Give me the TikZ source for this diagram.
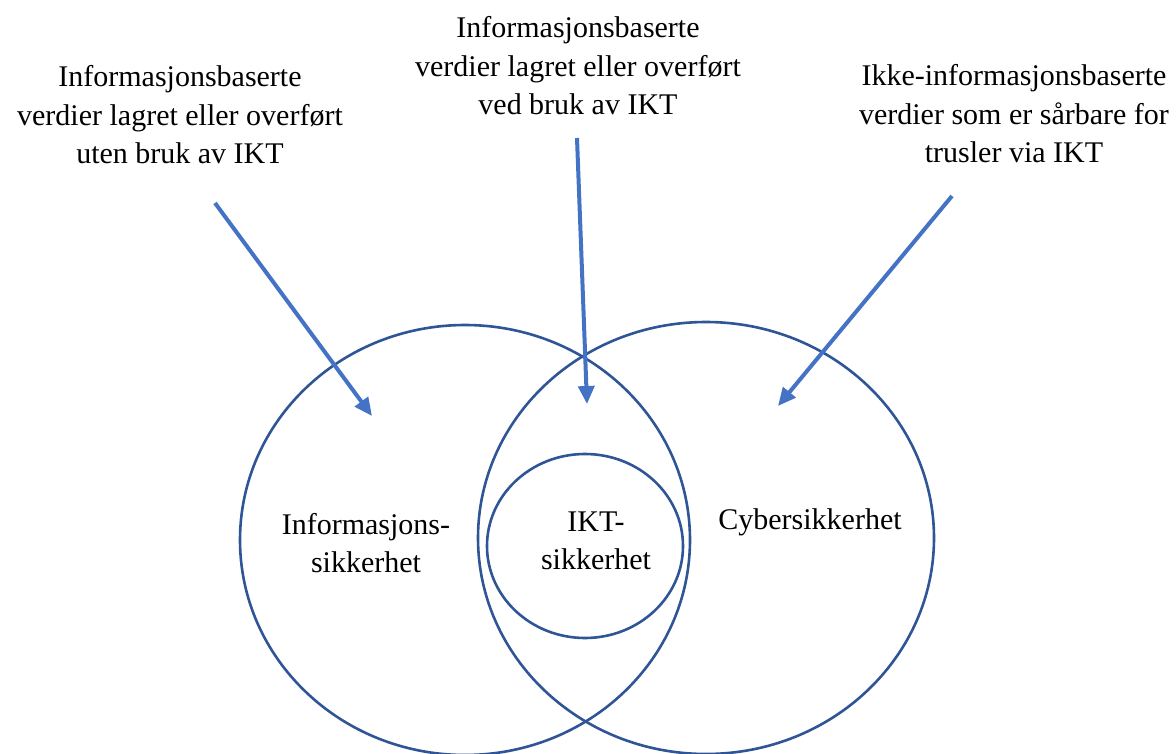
\documentclass[tikz,border=0pt]{standalone}
\usepackage{fontspec}
\setmainfont{Liberation Serif}
\usetikzlibrary{arrows.meta}
\definecolor{ringblue}{HTML}{2F5597}
\definecolor{pilblue}{HTML}{4472C4}

\begin{document}
\begin{tikzpicture}[x = 1pt, y = -1pt,
	ring/.style = {draw = ringblue, line width = 2.6pt},
	pil/.style = {draw = pilblue, line width = 4pt, -{Triangle[length = 18pt, width = 16pt]}},
	merk/.style = {align = center, inner sep = 0pt, font = \rmfamily\fontsize{30}{38.5}\selectfont}]
	\useasboundingbox (0, 0) rectangle (1176, 754);
	\draw[ring] (465, 540) ellipse (225 and 215);
	\draw[ring] (706, 538) ellipse (228 and 216);
	\draw[ring] (585, 546) ellipse (98 and 92);
	\node[merk] (txtA) at (180, 115) {Informasjonsbaserte\\verdier lagret eller overført\\uten bruk av IKT};
	\node[merk] (txtB) at (578, 66) {Informasjonsbaserte\\verdier lagret eller overført\\ved bruk av IKT};
	\node[merk] (txtC) at (1014, 114) {Ikke-informasjonsbaserte\\verdier som er sårbare for\\trusler via IKT};
	\node[merk] (lblInfo) at (366, 543) {Informasjons-\\sikkerhet};
	\node[merk] (lblIKT) at (596, 541) {IKT-\\sikkerhet};
	\node[merk] (lblCyber) at (810, 522) {Cybersikkerhet};
	\coordinate (aStart) at (215, 203);
	\coordinate (aEnd) at (372, 416);
	\coordinate (bStart) at (577, 138);
	\coordinate (bEnd) at (587, 404);
	\coordinate (cStart) at (952, 196);
	\coordinate (cEnd) at (778, 406);
	\draw[pil] (aStart) -- (aEnd);
	\draw[pil] (bStart) -- (bEnd);
	\draw[pil] (cStart) -- (cEnd);
\end{tikzpicture}
\end{document}
